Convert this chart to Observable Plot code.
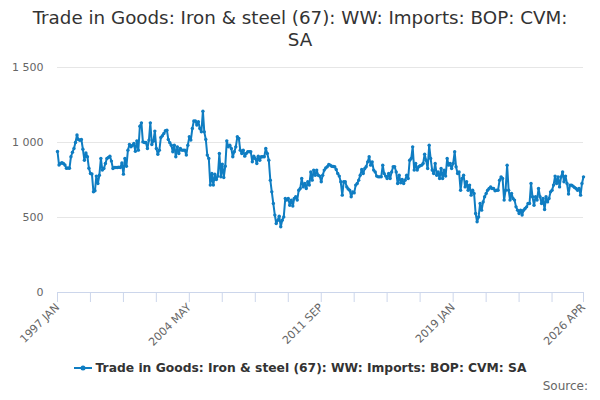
<!DOCTYPE html>
<html>
<head>
<meta charset="utf-8">
<script src="https://cdn.jsdelivr.net/npm/d3@7"></script>
<script src="https://cdn.jsdelivr.net/npm/@observablehq/plot@0.6"></script>
<style>
  html, body { margin: 0; padding: 0; background: #fff; }
  body { width: 600px; height: 400px; overflow: hidden; font-family: "DejaVu Sans", sans-serif; }
  #title { width: 545px; margin: 0 auto; padding-top: 7px; height: 45px; text-align: center; font-size: 18.3px; line-height: 22px; color: #333; }
  #chart svg { display: block; }
  #legend { height: 22px; display: flex; justify-content: center; align-items: center; font-size: 12.3px; font-weight: bold; color: #333; }
  #legend svg { margin-right: 4px; }
  #source { text-align: right; padding-right: 12px; font-size: 12px; color: #666; line-height: 14px; }
</style>
</head>
<body>
<div id="title">Trade in Goods: Iron &amp; steel (67): WW: Imports: BOP: CVM: SA</div>
<div id="chart"></div>
<div id="legend"></div>
<div id="source">Source:</div>
<script>
const seriesName = "Trade in Goods: Iron & steel (67): WW: Imports: BOP: CVM: SA";
const startYear = 1997;
const monthNames = ["JAN","FEB","MAR","APR","MAY","JUN","JUL","AUG","SEP","OCT","NOV","DEC"];
const yTicks = [0, 500, 1000, 1500];
const labelEvery = 88; // months between labelled ticks
const minorEvery = 22; // months between tick marks

const imports1997to2004 = [
  940, 850, 860, 865, 860, 850, 828, 830, 828, 905, 935, 960,
  1000, 1050, 1020, 1015, 1020, 955, 882, 930, 905, 828, 793, 790,
  671, 678, 776, 727, 782, 893, 816, 827, 860, 893, 900, 909,
  876, 827, 833, 833, 833, 835, 833, 864, 789, 893, 842, 949,
  987, 971, 980, 993, 942, 1011, 949, 1109, 1131, 1004, 1000, 1000,
  960, 1016, 1131, 987, 1009, 1076, 960, 922, 949, 1033, 1045, 1060,
  1078, 1082, 1020, 998, 982, 938, 982, 905, 971, 927, 960, 949,
  949, 949, 916, 982, 1038, 1016, 1093, 1144, 1144, 1116, 1138, 1093
];
const imports2005to2012 = [
  1071, 1209, 1071, 1020, 916, 893, 716, 793, 716, 789, 753, 776,
  927, 771, 856, 767, 842, 1011, 971, 982, 960, 905, 938, 971,
  1038, 1027, 949, 927, 949, 909, 927, 938, 938, 938, 871, 909,
  893, 860, 909, 882, 905, 905, 905, 960, 927, 882, 749, 671,
  593, 516, 460, 482, 509, 438, 482, 504, 627, 616, 627, 582,
  616, 576, 627, 638, 616, 682, 693, 760, 704, 727, 693, 738,
  716, 804, 749, 816, 782, 816, 782, 776, 738, 782, 816, 830,
  838, 853, 849, 842, 840, 838, 820, 793, 776, 738, 649, 738
];
const imports2013to2020 = [
  738, 704, 690, 682, 638, 671, 664, 716, 727, 749, 782, 820,
  793, 827, 838, 871, 905, 849, 871, 816, 804, 776, 771, 771,
  771, 849, 793, 776, 760, 793, 760, 804, 838, 838, 804, 727,
  782, 731, 753, 727, 749, 782, 760, 882, 893, 971, 816, 860,
  816, 838, 845, 849, 860, 922, 882, 827, 982, 893, 816, 793,
  860, 782, 804, 760, 827, 760, 816, 776, 893, 849, 860, 827,
  860, 938, 838, 793, 804, 682, 760, 782, 704, 738, 682, 716,
  649, 682, 660, 527, 471, 504, 593, 549, 604, 638, 660, 682
];
const imports2021to2026 = [
  693, 704, 693, 693, 678, 682, 682, 749, 771, 760, 616, 682,
  849, 682, 616, 660, 627, 616, 571, 549, 527, 549, 516, 549,
  560, 571, 593, 593, 727, 638, 582, 638, 616, 693, 638, 593,
  627, 553, 638, 604, 627, 671, 682, 716, 776, 727, 771, 704,
  771, 804, 738, 776, 727, 656, 716, 716, 709, 700, 693, 682,
  693, 649, 727, 771
];

const values = [...imports1997to2004, ...imports2005to2012, ...imports2013to2020, ...imports2021to2026];
const start = new Date(Date.UTC(startYear, 0, 1));
const data = values.map((v, i) => ({date: d3.utcMonth.offset(start, i), value: v}));
const end = data[data.length - 1].date;

const tickDates = [];
for (let i = 0; i < values.length - 1; i += minorEvery) tickDates.push(d3.utcMonth.offset(start, i));
tickDates.push(end);
const labelKeys = new Set();
for (let i = 0; i < values.length - 1; i += labelEvery) labelKeys.add(+d3.utcMonth.offset(start, i));
labelKeys.add(+end);
const fmtDate = d => labelKeys.has(+d) ? `${d.getUTCFullYear()} ${monthNames[d.getUTCMonth()]}` : "";

const locale = d3.formatLocale({decimal: ".", thousands: " ", grouping: [3], currency: ["", ""]});
const fmtY = locale.format(",d");

const color = "#0f7dc2";

const chart = Plot.plot({
  width: 600,
  height: 305,
  marginLeft: 57,
  marginRight: 17,
  marginTop: 15,
  marginBottom: 65,
  style: {fontFamily: "DejaVu Sans, sans-serif", fontSize: "11px", color: "#666", background: "#fff", overflow: "visible"},
  x: {type: "utc", domain: [start, end]},
  y: {domain: [0, 1500]},
  marks: [
    Plot.gridY([500, 1000, 1500], {stroke: "#e6e6e6", strokeOpacity: 1}),
    Plot.ruleY([0], {stroke: "#ccd6eb"}),
    Plot.axisY({ticks: yTicks, tickSize: 0, tickPadding: 14, tickFormat: fmtY, fill: "#666", label: null}),
    Plot.axisX({ticks: tickDates, tickSize: 10, tickPadding: 3, tickRotate: -45, tickFormat: fmtDate, stroke: "#ccd6eb", strokeOpacity: 1, fill: "#666", label: null}),
    Plot.line(data, {x: "date", y: "value", stroke: color, strokeWidth: 2}),
    Plot.dot(data, {x: "date", y: "value", fill: color, r: 1.7})
  ]
});
document.getElementById("chart").appendChild(chart);

const legend = document.getElementById("legend");
const ns = "http://www.w3.org/2000/svg";
const ls = document.createElementNS(ns, "svg");
ls.setAttribute("width", "18"); ls.setAttribute("height", "10");
ls.innerHTML = `<line x1="0" x2="18" y1="5" y2="5" stroke="${color}" stroke-width="2"/><circle cx="9" cy="5" r="2.5" fill="${color}"/>`;
legend.appendChild(ls);
const lt = document.createElement("span");
lt.textContent = seriesName;
legend.appendChild(lt);
</script>
</body>
</html>
